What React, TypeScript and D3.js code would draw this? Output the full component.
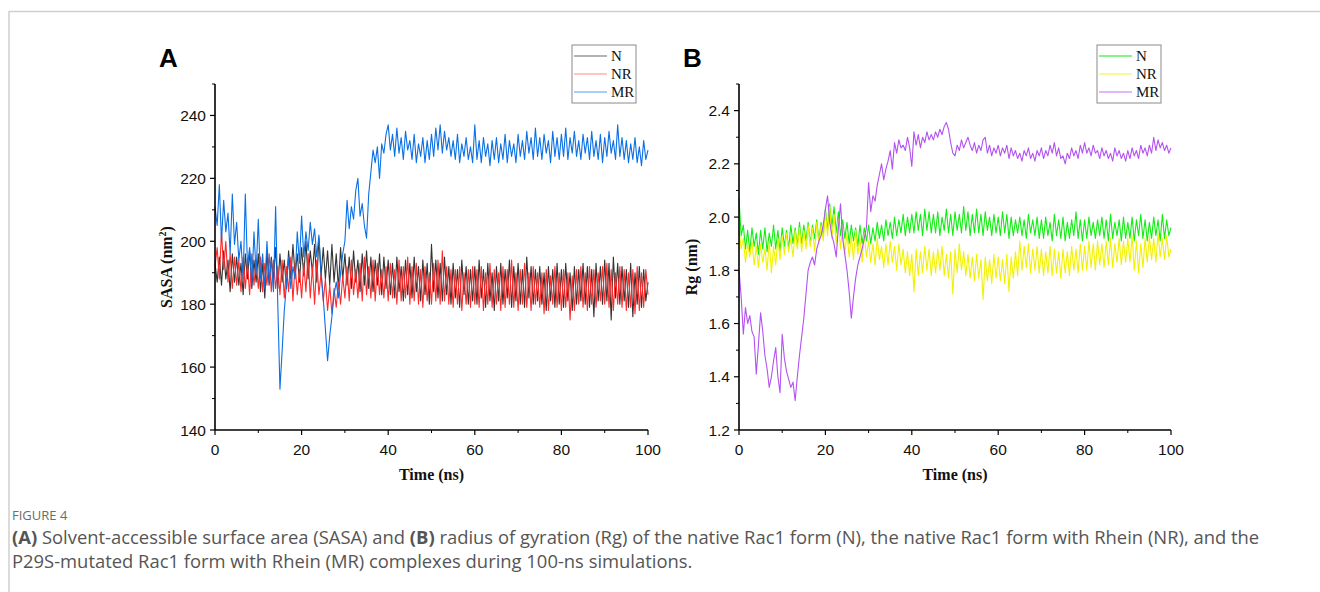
import React from "react";
import * as d3 from "d3";

// time grid (ns), one reading every 0.5 ns
const TIME: number[] = d3.range(201).map((i) => i * 0.5);

// Panel A: SASA (nm^2)
const SASA_N: number[] = [
  193,187,195,186,197,188,194,184,196,187,
  195,186,193,183,196,188,197,185,194,187,
  196,184,193,182,197,186,195,188,198,185,
  196,187,194,185,197,188,199,189,196,187,
  198,189,200,188,197,190,199,187,201,189,
  198,188,197,186,199,187,196,185,198,188,
  196,186,195,185,197,187,194,184,196,186,
  197,185,195,184,194,186,196,183,195,185,
  194,183,193,182,195,184,192,181,194,183,
  193,182,195,184,192,181,194,183,193,180,
  199,184,194,182,193,181,195,183,192,180,
  193,182,191,179,194,183,192,180,191,181,
  192,180,194,182,191,179,193,181,190,178,
  192,181,193,180,191,182,194,179,192,181,
  193,180,191,179,195,182,192,180,191,181,
  192,180,190,178,192,181,191,179,193,180,
  191,179,193,181,190,178,192,180,191,181,
  193,180,192,179,191,176,193,181,192,180,
  194,181,193,175,195,182,193,180,192,181,
  191,179,193,176,190,180,192,179,191,181,
  187,
];
const SASA_NR: number[] = [
  192,198,188,203,191,200,187,196,185,195,
  186,194,184,195,185,193,183,196,186,194,
  185,195,184,193,186,196,184,194,185,192,
  183,194,182,192,184,195,181,193,183,191,
  182,193,184,196,182,192,180,194,183,190,
  181,188,178,186,177,185,179,187,180,189,
  182,192,181,194,183,191,182,193,181,195,
  183,192,182,194,181,193,183,191,182,192,
  181,193,182,191,180,194,181,192,182,195,
  180,192,181,193,180,191,179,192,181,190,
  180,193,181,194,180,197,181,192,180,191,
  179,191,180,192,178,190,180,191,179,192,
  180,191,179,192,178,190,180,193,179,191,
  180,190,178,192,179,191,180,194,179,190,
  178,191,180,193,179,190,178,192,180,190,
  179,190,177,191,178,189,180,192,179,190,
  178,191,179,190,175,189,178,191,180,192,
  179,190,178,192,180,191,179,190,181,192,
  180,193,179,191,178,190,180,192,179,191,
  178,190,179,191,177,192,178,190,179,191,
  183,
];
const SASA_MR: number[] = [
  211,205,218,200,213,203,209,196,215,199,
  206,194,200,188,215,192,198,186,203,190,
  207,188,196,185,200,187,194,184,211,180,
  153,165,178,186,195,185,192,188,203,193,
  208,195,203,197,206,199,204,195,202,190,
  182,172,162,170,176,183,187,182,190,196,
  200,213,204,211,207,216,220,208,212,205,
  201,215,222,229,225,230,220,231,228,234,
  237,229,234,227,236,228,233,226,235,229,
  232,226,234,225,231,227,233,225,232,226,
  234,227,236,229,237,228,235,229,233,227,
  232,226,234,225,231,227,233,226,230,225,
  237,226,232,225,233,227,231,224,232,226,
  233,225,231,226,234,225,232,227,231,225,
  234,227,232,226,235,228,233,226,236,227,
  233,226,234,228,232,225,235,227,233,226,
  234,227,236,226,233,228,235,227,232,226,
  234,228,233,226,235,227,232,226,234,225,
  233,227,235,228,232,226,237,227,233,226,
  232,225,231,226,233,225,230,224,232,226,
  229,
];

// Panel B: Rg (nm)
const RG_N: number[] = [
  2.07,1.93,1.97,1.88,1.95,1.87,1.96,1.89,1.94,1.86,
  1.95,1.88,1.96,1.87,1.94,1.89,1.97,1.88,1.95,1.87,
  1.96,1.89,1.95,1.88,1.97,1.90,1.96,1.89,1.98,1.90,
  1.97,1.91,1.98,1.90,1.97,1.92,1.99,1.91,1.98,1.93,
  2.03,1.95,2.05,1.96,2.04,1.94,2.02,1.93,1.99,1.92,
  1.98,1.90,1.97,1.91,1.96,1.89,1.97,1.90,1.96,1.91,
  1.97,1.90,1.96,1.91,1.98,1.92,1.97,1.91,1.99,1.93,
  1.98,1.92,2.00,1.93,1.99,1.94,2.01,1.93,2.00,1.94,
  2.01,1.94,2.02,1.95,2.01,1.93,2.03,1.95,2.02,1.94,
  2.01,1.94,2.02,1.93,2.00,1.95,2.03,1.94,2.01,1.93,
  2.02,1.95,2.01,1.94,2.04,1.95,2.02,1.93,2.01,1.94,
  2.03,1.94,2.01,1.93,2.02,1.95,2.00,1.93,2.01,1.94,
  2.00,1.93,2.02,1.94,2.01,1.92,2.00,1.93,1.99,1.94,
  2.00,1.93,1.99,1.92,2.01,1.94,1.99,1.93,2.00,1.92,
  1.99,1.92,2.00,1.93,1.98,1.91,2.01,1.93,1.99,1.92,
  2.00,1.91,1.98,1.92,1.99,1.93,2.02,1.92,1.99,1.91,
  1.99,1.92,2.00,1.93,1.98,1.92,1.99,1.93,2.00,1.92,
  1.99,1.91,2.01,1.92,1.98,1.93,1.99,1.91,2.00,1.92,
  1.98,1.92,2.00,1.91,1.99,1.93,2.01,1.92,1.99,1.91,
  1.98,1.92,2.00,1.93,1.99,1.91,2.01,1.92,1.99,1.93,
  1.96,
];
const RG_NR: number[] = [
  1.95,1.88,1.92,1.83,1.90,1.85,1.91,1.82,1.89,1.81,
  1.90,1.83,1.88,1.80,1.91,1.79,1.89,1.82,1.92,1.84,
  1.93,1.86,1.94,1.87,1.92,1.85,1.95,1.88,1.96,1.87,
  1.95,1.88,1.97,1.89,1.96,1.87,1.98,1.90,1.97,1.91,
  2.02,1.93,2.04,1.92,2.01,1.90,1.99,1.88,1.96,1.86,
  1.94,1.85,1.93,1.84,1.95,1.86,1.92,1.83,1.94,1.85,
  1.91,1.83,1.90,1.82,1.92,1.84,1.89,1.81,1.90,1.82,
  1.91,1.83,1.89,1.80,1.90,1.82,1.88,1.79,1.87,1.78,
  1.86,1.72,1.88,1.78,1.87,1.79,1.89,1.80,1.88,1.78,
  1.87,1.79,1.88,1.80,1.89,1.78,1.86,1.77,1.87,1.71,
  1.88,1.79,1.90,1.80,1.87,1.78,1.86,1.77,1.85,1.76,
  1.86,1.77,1.84,1.69,1.85,1.76,1.84,1.75,1.86,1.77,
  1.85,1.76,1.84,1.75,1.86,1.72,1.85,1.77,1.87,1.78,
  1.91,1.80,1.89,1.81,1.90,1.79,1.88,1.80,1.89,1.79,
  1.88,1.78,1.87,1.79,1.89,1.78,1.88,1.79,1.87,1.77,
  1.88,1.79,1.87,1.78,1.89,1.80,1.88,1.79,1.90,1.80,
  1.89,1.80,1.91,1.81,1.90,1.80,1.91,1.82,1.90,1.81,
  1.91,1.82,1.92,1.81,1.90,1.83,1.92,1.82,1.91,1.83,
  1.92,1.83,1.93,1.80,1.91,1.79,1.90,1.81,1.92,1.83,
  1.93,1.84,1.92,1.83,1.94,1.85,1.92,1.84,1.93,1.85,
  1.88,
];
const RG_MR: number[] = [
  1.80,1.70,1.56,1.66,1.60,1.63,1.57,1.55,1.41,1.52,
  1.64,1.57,1.48,1.43,1.36,1.40,1.46,1.51,1.40,1.34,
  1.56,1.47,1.42,1.39,1.36,1.38,1.31,1.40,1.48,1.55,
  1.62,1.71,1.80,1.83,1.85,1.82,1.88,1.91,1.93,1.97,
  2.03,2.08,1.98,1.93,1.90,1.85,1.96,2.05,1.92,1.86,
  1.80,1.72,1.62,1.70,1.77,1.82,1.85,1.88,1.92,1.96,
  2.13,2.02,2.08,2.06,2.12,2.16,2.20,2.14,2.18,2.21,
  2.25,2.18,2.28,2.24,2.29,2.26,2.27,2.25,2.30,2.26,
  2.19,2.32,2.27,2.31,2.26,2.30,2.28,2.32,2.29,2.31,
  2.29,2.32,2.30,2.33,2.31,2.34,2.355,2.33,2.28,2.24,
  2.23,2.27,2.25,2.29,2.26,2.28,2.30,2.27,2.25,2.28,
  2.24,2.27,2.25,2.29,2.30,2.24,2.27,2.23,2.26,2.24,
  2.27,2.23,2.26,2.24,2.27,2.22,2.26,2.23,2.25,2.22,
  2.24,2.21,2.25,2.23,2.26,2.22,2.24,2.21,2.25,2.23,
  2.26,2.22,2.25,2.23,2.27,2.24,2.28,2.23,2.26,2.22,
  2.23,2.20,2.24,2.22,2.26,2.23,2.25,2.22,2.27,2.24,
  2.28,2.24,2.26,2.23,2.27,2.24,2.25,2.22,2.26,2.23,
  2.25,2.22,2.24,2.21,2.26,2.23,2.25,2.22,2.24,2.21,
  2.25,2.22,2.26,2.23,2.25,2.22,2.27,2.24,2.26,2.23,
  2.27,2.24,2.30,2.25,2.29,2.26,2.28,2.25,2.27,2.24,
  2.26,
];

const SERIES_NAMES = ["N", "NR", "MR"];
const X_TICKS = [0, 20, 40, 60, 80, 100];
const SASA_TICKS = [140, 160, 180, 200, 220, 240];
const RG_TICKS = [1.2, 1.4, 1.6, 1.8, 2.0, 2.2, 2.4];

const COLORS_A = ["#333333", "#ff2a2a", "#0a70e6"];
const LEGEND_A = ["#9a9a9a", "#ffb0b0", "#8cbcf2"];
const COLORS_B = ["#12ee12", "#f2f200", "#b452f2"];
const LEGEND_B = ["#5ef05e", "#f8f870", "#d9a0f8"];

type PanelProps = {
  x0: number;
  x1: number;
  yTop: number;
  yBot: number;
  domain: [number, number];
  ticks: number[];
  minorStep: number;
  fmt: (v: number) => string;
  series: number[][];
  colors: string[];
  legendColors: string[];
  letter: string;
  yLabel: React.ReactNode;
  yLabelX: number;
  legendX: number;
};

function Panel(p: PanelProps) {
  const x = d3.scaleLinear().domain([0, 100]).range([p.x0, p.x1]);
  const y = d3.scaleLinear().domain(p.domain).range([p.yBot, p.yTop]);
  const line = d3
    .line<number>()
    .x((_, i) => x(TIME[i]))
    .y((v) => y(v));
  const xMinor = d3.range(10, 100, 20);
  const yMinor: number[] = [];
  for (let v = p.domain[0] + p.minorStep; v < p.domain[1] + 1e-9; v += p.minorStep * 2) {
    yMinor.push(v);
  }
  const axisFont = "Liberation Sans, Arial, sans-serif";
  const serif = "Liberation Serif, Times New Roman, serif";
  return (
    <g>
      <text x={x(0) - 56} y={67} fontFamily={axisFont} fontWeight="bold" fontSize={26} fill="#000">
        {p.letter}
      </text>
      {p.series.map((s, i) => (
        <path key={i} d={line(s) || ""} fill="none" stroke={p.colors[i]} strokeWidth={1.1} strokeLinejoin="round" />
      ))}
      {/* y axis */}
      <line x1={p.x0} x2={p.x0} y1={p.yTop} y2={p.yBot} stroke="#000" strokeWidth={1.6} />
      {p.ticks.map((t) => (
        <g key={"yt" + t}>
          <line x1={p.x0 - 5} x2={p.x0} y1={y(t)} y2={y(t)} stroke="#000" strokeWidth={1.2} />
          <text x={p.x0 - 9} y={y(t) + 5.5} textAnchor="end" fontFamily={axisFont} fontSize={15.5} fill="#111">
            {p.fmt(t)}
          </text>
        </g>
      ))}
      {yMinor.map((t) => (
        <line key={"ym" + t} x1={p.x0 - 3} x2={p.x0} y1={y(t)} y2={y(t)} stroke="#000" strokeWidth={1} />
      ))}
      {/* x axis */}
      <line x1={p.x0} x2={p.x1} y1={p.yBot} y2={p.yBot} stroke="#000" strokeWidth={1.6} />
      {X_TICKS.map((t) => (
        <g key={"xt" + t}>
          <line x1={x(t)} x2={x(t)} y1={p.yBot} y2={p.yBot + 5} stroke="#000" strokeWidth={1.2} />
          <text x={x(t)} y={p.yBot + 25} textAnchor="middle" fontFamily={axisFont} fontSize={15.5} fill="#111">
            {t}
          </text>
        </g>
      ))}
      {xMinor.map((t) => (
        <line key={"xm" + t} x1={x(t)} x2={x(t)} y1={p.yBot} y2={p.yBot + 3} stroke="#000" strokeWidth={1} />
      ))}
      <text
        x={(p.x0 + p.x1) / 2}
        y={p.yBot + 50}
        textAnchor="middle"
        fontFamily={serif}
        fontWeight="bold"
        fontSize={16}
        fill="#111"
      >
        Time (ns)
      </text>
      <text
        transform={`translate(${p.yLabelX},${(p.yTop + p.yBot) / 2 + 10}) rotate(-90)`}
        textAnchor="middle"
        fontFamily={serif}
        fontWeight="bold"
        fontSize={16}
        fill="#111"
      >
        {p.yLabel}
      </text>
      {/* legend */}
      <rect x={p.legendX} y={45} width={64} height={58} fill="#fff" stroke="#8a8a8a" strokeWidth={1} />
      {SERIES_NAMES.map((n, i) => (
        <g key={n}>
          <line
            x1={p.legendX + 2}
            x2={p.legendX + 35}
            y1={56 + i * 18}
            y2={56 + i * 18}
            stroke={p.legendColors[i]}
            strokeWidth={1.4}
          />
          <text x={p.legendX + 39} y={61 + i * 18} fontFamily={serif} fontSize={15} fill="#111">
            {n}
          </text>
        </g>
      ))}
    </g>
  );
}

export default function App() {
  const caption = "Open Sans, Noto Sans, sans-serif";
  return (
    <svg
      width={1320}
      height={592}
      style={{ position: "absolute", left: 0, top: 0, background: "#fff" }}
      xmlns="http://www.w3.org/2000/svg"
    >
      <line x1={9} x2={1320} y1={11.5} y2={11.5} stroke="#cfcfcf" strokeWidth={1.5} />
      <line x1={9} x2={9} y1={11} y2={592} stroke="#cfcfcf" strokeWidth={1.5} />
      <Panel
        x0={215}
        x1={648}
        yTop={84}
        yBot={430}
        domain={[140, 250]}
        ticks={SASA_TICKS}
        minorStep={10}
        fmt={(v) => String(v)}
        series={[SASA_N, SASA_NR, SASA_MR]}
        colors={COLORS_A}
        legendColors={LEGEND_A}
        letter="A"
        yLabel={
          <>
            SASA (nm<tspan dy={-6} fontSize={10}>2</tspan>
            <tspan dy={6}>)</tspan>
          </>
        }
        yLabelX={172}
        legendX={572}
      />
      <Panel
        x0={739}
        x1={1171}
        yTop={84}
        yBot={430}
        domain={[1.2, 2.5]}
        ticks={RG_TICKS}
        minorStep={0.1}
        fmt={(v) => v.toFixed(1)}
        series={[RG_N, RG_NR, RG_MR]}
        colors={COLORS_B}
        legendColors={LEGEND_B}
        letter="B"
        yLabel={<>Rg (nm)</>}
        yLabelX={697}
        legendX={1097}
      />
      <text x={12} y={519.5} fontFamily={caption} fontSize={13} fill="#6b6b6b">
        FIGURE 4
      </text>
      <text x={12} y={544} fontFamily={caption} fontSize={18.4} fill="#555">
        <tspan fontWeight="bold">(A)</tspan> Solvent-accessible surface area (SASA) and{" "}
        <tspan fontWeight="bold">(B)</tspan> radius of gyration (Rg) of the native Rac1 form (N), the native Rac1 form
        with Rhein (NR), and the
      </text>
      <text x={12} y={568} fontFamily={caption} fontSize={18.4} fill="#555">
        P29S-mutated Rac1 form with Rhein (MR) complexes during 100-ns simulations.
      </text>
    </svg>
  );
}
